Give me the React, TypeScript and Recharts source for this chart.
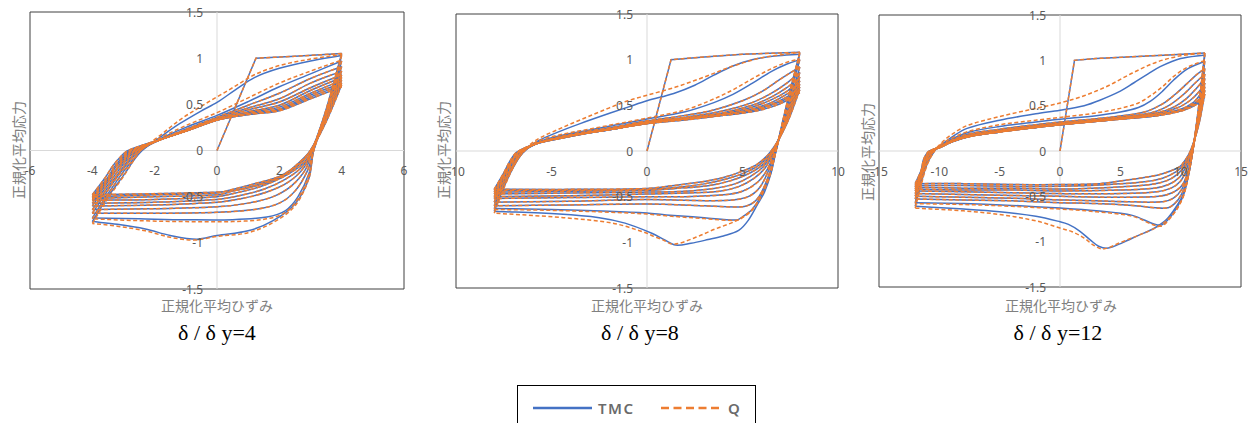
import React from 'react';
import { LineChart, Line, XAxis, YAxis, ReferenceLine, ReferenceArea } from 'recharts';

type Pt = [number, number];

const yTicks = [-1.5, -1, -0.5, 0, 0.5, 1, 1.5];
const axisTitleX = '正規化平均ひずみ';
const axisTitleY = '正規化平均応力';
const seriesNames = ['TMC', 'Q'];
const captions = ['δ / δ y=4', 'δ / δ y=8', 'δ / δ y=12'];

// ---------------- δ/δy = 4 ----------------
const xTicks4 = [-6, -4, -2, 0, 2, 4, 6];
const init4: Pt[] = [[0, 0], [1.25, 1.0], [2.5, 1.02], [4, 1.05]];
const tmcLow4: Pt[][] = [
  [[4, 1.05], [3.55, 0.5], [3.1, 0], [2.95, -0.3], [2.5, -0.58], [1.8, -0.76], [1, -0.87], [0, -0.92], [-0.65, -0.96], [-1.5, -0.92], [-2.3, -0.85], [-3.2, -0.8], [-4, -0.77]],
  [[4, 1.03], [3.55, 0.48], [3.1, 0], [2.95, -0.25], [2.6, -0.5], [2.2, -0.65], [1.6, -0.72], [0.5, -0.75], [-1, -0.75], [-2.5, -0.74], [-4, -0.73]],
  [[4, 0.97], [3.55, 0.45], [3.1, 0], [2.9, -0.22], [2.5, -0.44], [2, -0.57], [1.2, -0.64], [0, -0.67], [-2, -0.68], [-4, -0.68]],
  [[4, 0.91], [3.5, 0.42], [3.05, 0], [2.85, -0.2], [2.4, -0.38], [1.8, -0.5], [1, -0.57], [0, -0.61], [-2, -0.63], [-4, -0.64]],
  [[4, 0.86], [3.5, 0.4], [3.05, 0], [2.8, -0.18], [2.3, -0.34], [1.6, -0.45], [0.8, -0.52], [0, -0.56], [-2, -0.59], [-4, -0.6]],
  [[4, 0.82], [3.5, 0.38], [3.05, 0], [2.75, -0.17], [2.2, -0.31], [1.5, -0.42], [0.7, -0.49], [0, -0.53], [-2, -0.56], [-4, -0.57]],
  [[4, 0.79], [3.5, 0.36], [3.05, 0], [2.7, -0.16], [2.1, -0.29], [1.4, -0.39], [0.6, -0.46], [0, -0.5], [-2, -0.53], [-4, -0.54]],
  [[4, 0.76], [3.5, 0.34], [3.0, 0], [2.65, -0.15], [2.05, -0.28], [1.3, -0.37], [0.5, -0.44], [0, -0.48], [-2, -0.5], [-4, -0.52]],
  [[4, 0.73], [3.5, 0.32], [3.0, 0], [2.6, -0.15], [2, -0.28], [1.2, -0.36], [0.4, -0.43], [0, -0.46], [-2, -0.48], [-4, -0.5]],
  [[4, 0.71], [3.5, 0.31], [3.0, 0], [2.57, -0.15], [2.03, -0.29], [1.3, -0.38], [0.4, -0.44], [-1, -0.46], [-2.5, -0.47], [-4, -0.48]],
];
const tmcUp4: Pt[][] = [
  [[-4, -0.77], [-3.5, -0.5], [-3, -0.27], [-2.7, -0.12], [-2.4, 0], [-1.8, 0.15], [-1.2, 0.29], [-0.5, 0.43], [0, 0.52], [0.6, 0.66], [1.2, 0.79], [2, 0.89], [3, 0.97], [4, 1.03]],
  [[-4, -0.73], [-3.5, -0.47], [-3.05, -0.25], [-2.7, -0.1], [-2.45, 0], [-1.8, 0.13], [-1, 0.25], [0, 0.38], [1, 0.53], [2, 0.69], [3, 0.83], [4, 0.97]],
  [[-4, -0.68], [-3.5, -0.43], [-3.1, -0.24], [-2.75, -0.09], [-2.5, 0], [-1.8, 0.12], [-1, 0.23], [0, 0.36], [1, 0.49], [2, 0.62], [3, 0.78], [4, 0.91]],
  [[-4, -0.64], [-3.5, -0.4], [-3.1, -0.22], [-2.8, -0.09], [-2.55, 0], [-1.8, 0.12], [-1, 0.22], [0, 0.35], [1, 0.46], [2, 0.56], [3, 0.73], [4, 0.86]],
  [[-4, -0.6], [-3.5, -0.37], [-3.15, -0.21], [-2.85, -0.08], [-2.6, 0], [-1.8, 0.12], [-1, 0.22], [0, 0.34], [1, 0.44], [2, 0.525], [3, 0.68], [4, 0.82]],
  [[-4, -0.57], [-3.5, -0.34], [-3.2, -0.2], [-2.9, -0.08], [-2.65, 0], [-1.8, 0.12], [-1, 0.21], [0, 0.33], [1, 0.42], [2, 0.49], [3, 0.65], [4, 0.79]],
  [[-4, -0.54], [-3.5, -0.32], [-3.2, -0.19], [-2.95, -0.08], [-2.7, 0], [-1.8, 0.12], [-1, 0.21], [0, 0.33], [1, 0.41], [2, 0.47], [3, 0.62], [4, 0.76]],
  [[-4, -0.52], [-3.5, -0.3], [-3.25, -0.18], [-3, -0.08], [-2.75, 0], [-1.8, 0.12], [-1, 0.21], [0, 0.33], [1, 0.4], [2, 0.45], [3, 0.6], [4, 0.73]],
  [[-4, -0.5], [-3.5, -0.29], [-3.3, -0.18], [-3.05, -0.08], [-2.8, 0], [-1.8, 0.12], [-1, 0.21], [0, 0.33], [1, 0.39], [2, 0.44], [3, 0.58], [4, 0.71]],
  [[-4, -0.48], [-3.6, -0.3], [-3.35, -0.17], [-3.1, -0.07], [-2.85, 0], [-1.8, 0.12], [-1, 0.21], [0, 0.33], [1, 0.39], [2, 0.43], [3, 0.56], [4, 0.69]],
];
const qLow4Head: Pt[][] = [
  [[4, 1.05], [3.55, 0.5], [3.1, 0], [2.95, -0.3], [2.5, -0.6], [1.8, -0.78], [1, -0.89], [0, -0.93], [-0.7, -0.97], [-1.5, -0.94], [-2.3, -0.87], [-3.2, -0.82], [-4, -0.79]],
  [[4, 1.03], [3.55, 0.48], [3.1, 0], [2.95, -0.26], [2.6, -0.52], [2.2, -0.67], [1.6, -0.74], [0.5, -0.77], [-1, -0.77], [-2.5, -0.76], [-4, -0.74]],
];
const qUp4Head: Pt[][] = [
  [[-4, -0.79], [-3.5, -0.52], [-3, -0.28], [-2.7, -0.12], [-2.45, 0], [-1.8, 0.17], [-1.2, 0.33], [-0.5, 0.48], [0, 0.58], [0.6, 0.7], [1.2, 0.82], [2, 0.92], [3, 0.99], [4, 1.04]],
  [[-4, -0.74], [-3.5, -0.48], [-3.05, -0.26], [-2.7, -0.1], [-2.45, 0], [-1.8, 0.14], [-1, 0.27], [0, 0.41], [1, 0.57], [2, 0.73], [3, 0.86], [4, 0.98]],
];

// ---------------- δ/δy = 8 ----------------
const xTicks8 = [-10, -5, 0, 5, 10];
const init8: Pt[] = [[0, 0], [1.26, 1.0], [3, 1.03], [5, 1.06], [8, 1.08]];
const tmcLow8: Pt[][] = [
  [[8, 1.08], [7.3, 0.5], [6.75, 0], [6.5, -0.24], [6.15, -0.45], [5.8, -0.58], [5.3, -0.76], [4.8, -0.87], [4, -0.93], [3.2, -0.97], [2.3, -1.01], [1.5, -1.03], [0.9, -0.97], [0.25, -0.9], [-1.15, -0.79], [-2.5, -0.73], [-4.6, -0.69], [-8, -0.66]],
  [[8, 1.06], [7.3, 0.48], [6.75, 0], [6.45, -0.26], [6.0, -0.48], [5.5, -0.64], [5.0, -0.72], [4.7, -0.755], [3, -0.73], [1, -0.7], [0, -0.68], [-2, -0.66], [-5, -0.64], [-8, -0.63]],
  [[8, 1.0], [7.3, 0.45], [6.75, 0], [6.4, -0.25], [6, -0.45], [5.6, -0.56], [5, -0.61], [3, -0.6], [0, -0.58], [-4, -0.59], [-8, -0.6]],
  [[8, 0.92], [7.3, 0.4], [6.7, 0], [6.35, -0.22], [5.9, -0.4], [5.3, -0.5], [4.3, -0.54], [2, -0.54], [0, -0.53], [-4, -0.55], [-8, -0.56]],
  [[8, 0.86], [7.3, 0.38], [6.7, 0], [6.3, -0.2], [5.8, -0.34], [5, -0.44], [4, -0.48], [2, -0.5], [0, -0.5], [-4, -0.51], [-8, -0.52]],
  [[8, 0.81], [7.3, 0.36], [6.65, 0], [6.2, -0.18], [5.6, -0.3], [4.8, -0.39], [3.8, -0.44], [2, -0.46], [0, -0.47], [-4, -0.49], [-8, -0.5]],
  [[8, 0.77], [7.3, 0.34], [6.6, 0], [6.1, -0.17], [5.4, -0.28], [4.6, -0.36], [3.5, -0.41], [2, -0.44], [0, -0.45], [-4, -0.46], [-8, -0.47]],
  [[8, 0.73], [7.3, 0.32], [6.6, 0], [6, -0.16], [5.2, -0.26], [4.3, -0.33], [3.2, -0.38], [1.5, -0.41], [0, -0.43], [-4, -0.44], [-8, -0.45]],
  [[8, 0.7], [7.3, 0.3], [6.55, 0], [5.9, -0.15], [5.1, -0.24], [4.1, -0.31], [3, -0.36], [1.5, -0.4], [0, -0.42], [-4, -0.43], [-8, -0.43]],
  [[8, 0.67], [7.3, 0.29], [6.5, 0], [5.8, -0.14], [5, -0.22], [4, -0.29], [2.8, -0.34], [1.3, -0.38], [0, -0.41], [-4, -0.42], [-8, -0.42]],
];
const tmcUp8: Pt[][] = [
  [[-8, -0.66], [-7.5, -0.4], [-7, -0.18], [-6.5, -0.02], [-5.8, 0.1], [-4.5, 0.22], [-3.5, 0.3], [-2, 0.41], [-1, 0.48], [0, 0.55], [1.4, 0.63], [2.5, 0.72], [3.5, 0.83], [4.5, 0.93], [5.5, 1.0], [6.7, 1.04], [8, 1.06]],
  [[-8, -0.63], [-7.5, -0.38], [-7, -0.17], [-6.5, -0.02], [-5.8, 0.09], [-4.5, 0.17], [-3, 0.23], [-1.5, 0.29], [0, 0.35], [2, 0.43], [3.5, 0.53], [4.5, 0.62], [5.5, 0.74], [6.5, 0.87], [7.3, 0.95], [8, 1.0]],
  [[-8, -0.6], [-7.5, -0.36], [-7, -0.16], [-6.55, -0.02], [-5.8, 0.08], [-4.5, 0.16], [-3, 0.22], [-1.5, 0.27], [0, 0.33], [2, 0.39], [3.5, 0.45], [5, 0.55], [6, 0.65], [7, 0.79], [8, 0.92]],
  [[-8, -0.56], [-7.5, -0.33], [-7, -0.15], [-6.6, -0.02], [-5.8, 0.08], [-4.5, 0.15], [-3, 0.21], [-1.5, 0.26], [0, 0.32], [2, 0.37], [4, 0.44], [5.5, 0.53], [6.5, 0.63], [7.3, 0.74], [8, 0.86]],
  [[-8, -0.52], [-7.5, -0.31], [-7.05, -0.14], [-6.65, -0.02], [-5.8, 0.08], [-4.5, 0.15], [-3, 0.21], [-1.5, 0.26], [0, 0.32], [2, 0.36], [4, 0.42], [5.5, 0.5], [6.5, 0.59], [7.3, 0.69], [8, 0.81]],
  [[-8, -0.5], [-7.5, -0.29], [-7.1, -0.13], [-6.7, -0.02], [-5.8, 0.08], [-4.5, 0.15], [-3, 0.2], [-1.5, 0.25], [0, 0.31], [2, 0.36], [4, 0.41], [5.5, 0.48], [6.5, 0.56], [7.3, 0.65], [8, 0.77]],
  [[-8, -0.47], [-7.5, -0.27], [-7.1, -0.12], [-6.7, -0.01], [-5.8, 0.08], [-4.5, 0.15], [-3, 0.2], [-1.5, 0.25], [0, 0.31], [2, 0.35], [4, 0.4], [5.5, 0.46], [6.5, 0.53], [7.3, 0.62], [8, 0.73]],
  [[-8, -0.45], [-7.5, -0.26], [-7.1, -0.12], [-6.75, -0.01], [-5.8, 0.08], [-4.5, 0.14], [-3, 0.2], [-1.5, 0.25], [0, 0.3], [2, 0.35], [4, 0.4], [5.5, 0.45], [6.5, 0.51], [7.3, 0.59], [8, 0.7]],
  [[-8, -0.43], [-7.5, -0.25], [-7.1, -0.11], [-6.75, -0.01], [-5.8, 0.08], [-4.5, 0.14], [-3, 0.2], [-1.5, 0.25], [0, 0.3], [2, 0.35], [4, 0.39], [5.5, 0.44], [6.5, 0.5], [7.3, 0.57], [8, 0.67]],
  [[-8, -0.42], [-7.5, -0.24], [-7.15, -0.1], [-6.8, -0.01], [-5.8, 0.08], [-4.5, 0.14], [-3, 0.2], [-1.5, 0.25], [0, 0.3], [2, 0.34], [4, 0.39], [5.5, 0.43], [6.5, 0.48], [7.3, 0.55], [8, 0.64]],
];
const qLow8Head: Pt[][] = [
  [[8, 1.08], [7.3, 0.5], [6.75, 0], [6.45, -0.24], [6.05, -0.45], [5.5, -0.64], [4.7, -0.76], [3.5, -0.86], [2.5, -0.95], [1.4, -1.02], [0.8, -0.97], [0.3, -0.93], [0, -0.9], [-1.8, -0.79], [-4.4, -0.73], [-8, -0.68]],
  [[8, 1.07], [7.3, 0.49], [6.75, 0], [6.45, -0.26], [6.0, -0.49], [5.5, -0.65], [5.0, -0.73], [4.7, -0.76], [3, -0.74], [1, -0.71], [0, -0.69], [-2, -0.67], [-5, -0.65], [-8, -0.64]],
];
const qUp8Head: Pt[][] = [
  [[-8, -0.68], [-7.5, -0.41], [-7, -0.18], [-6.5, -0.01], [-5.8, 0.12], [-4.5, 0.25], [-3.5, 0.34], [-2, 0.47], [-1, 0.55], [0, 0.61], [1.5, 0.7], [3, 0.81], [4.5, 0.93], [6, 1.02], [8, 1.08]],
  [[-8, -0.64], [-7.5, -0.38], [-7, -0.17], [-6.5, -0.02], [-5.8, 0.1], [-4.5, 0.18], [-3, 0.24], [-1.5, 0.3], [0, 0.36], [2, 0.45], [3.5, 0.57], [4.5, 0.67], [5.5, 0.79], [6.5, 0.9], [7.3, 0.97], [8, 1.01]],
];

// ---------------- δ/δy = 12 ----------------
const xTicks12 = [-15, -10, -5, 0, 5, 10, 15];
const init12: Pt[] = [[0, 0], [1.2, 1.0], [3, 1.02], [6, 1.04], [9, 1.06], [12, 1.08]];
const tmcLow12: Pt[][] = [
  [[12, 1.08], [11.5, 0.5], [11, 0], [10.6, -0.3], [10.2, -0.48], [9.7, -0.6], [8.8, -0.76], [7.7, -0.86], [6.5, -0.93], [5.2, -1.01], [4, -1.07], [3.2, -1.05], [2.5, -0.98], [1.6, -0.88], [0.7, -0.81], [0, -0.78], [-2, -0.72], [-5, -0.67], [-8, -0.64], [-12, -0.61]],
  [[12, 1.06], [11.5, 0.48], [11, 0], [10.6, -0.3], [10.2, -0.5], [9.7, -0.62], [9.2, -0.72], [8.3, -0.82], [6, -0.71], [3, -0.66], [0, -0.63], [-4, -0.6], [-8, -0.58], [-12, -0.57]],
  [[12, 0.99], [11.5, 0.45], [11, 0], [10.6, -0.28], [10.1, -0.47], [9.5, -0.58], [8.8, -0.63], [6, -0.6], [3, -0.58], [0, -0.57], [-4, -0.55], [-8, -0.54], [-12, -0.53]],
  [[12, 0.91], [11.5, 0.42], [11, 0], [10.6, -0.25], [10.1, -0.42], [9.4, -0.52], [8.5, -0.56], [6, -0.56], [3, -0.55], [0, -0.54], [-4, -0.52], [-8, -0.51], [-12, -0.5]],
  [[12, 0.85], [11.5, 0.4], [11, 0], [10.6, -0.23], [10.1, -0.38], [9.3, -0.46], [8.2, -0.5], [5, -0.51], [0, -0.5], [-4, -0.49], [-8, -0.48], [-12, -0.47]],
  [[12, 0.8], [11.5, 0.38], [10.95, 0], [10.5, -0.2], [10, -0.33], [9.2, -0.41], [8, -0.45], [5, -0.47], [0, -0.47], [-4, -0.46], [-8, -0.45], [-12, -0.44]],
  [[12, 0.75], [11.5, 0.35], [10.9, 0], [10.4, -0.18], [9.9, -0.29], [9, -0.37], [7.8, -0.41], [5, -0.43], [0, -0.44], [-4, -0.43], [-8, -0.43], [-12, -0.42]],
  [[12, 0.71], [11.5, 0.33], [10.9, 0], [10.3, -0.17], [9.7, -0.26], [8.8, -0.33], [7.5, -0.37], [4.5, -0.4], [0, -0.42], [-4, -0.41], [-8, -0.41], [-12, -0.4]],
  [[12, 0.67], [11.5, 0.31], [10.85, 0], [10.2, -0.16], [9.6, -0.23], [8.5, -0.3], [7, -0.34], [4, -0.37], [0, -0.39], [-4, -0.39], [-8, -0.38], [-12, -0.38]],
  [[12, 0.63], [11.5, 0.29], [10.8, 0], [10.1, -0.15], [9.7, -0.19], [8.5, -0.25], [7.5, -0.28], [5, -0.33], [3.3, -0.36], [0, -0.37], [-4, -0.37], [-8, -0.36], [-12, -0.36]],
];
const tmcUp12: Pt[][] = [
  [[-12, -0.61], [-11.5, -0.35], [-11, -0.14], [-10.4, 0], [-9.9, 0.06], [-9, 0.15], [-7.7, 0.25], [-5, 0.34], [-2, 0.41], [0, 0.45], [2, 0.5], [3.3, 0.56], [5, 0.66], [6.1, 0.75], [7.3, 0.85], [8.3, 0.93], [10, 1.02], [12, 1.06]],
  [[-12, -0.57], [-11.5, -0.33], [-11, -0.13], [-10.45, 0], [-9.9, 0.06], [-9, 0.13], [-7.5, 0.21], [-5, 0.27], [-2, 0.32], [0, 0.35], [3, 0.39], [5, 0.43], [6.5, 0.48], [7.5, 0.55], [8.5, 0.66], [9.4, 0.78], [10.5, 0.9], [12, 0.99]],
  [[-12, -0.53], [-11.5, -0.3], [-11.05, -0.12], [-10.5, 0], [-9.9, 0.05], [-9, 0.12], [-7.5, 0.19], [-5, 0.24], [-2, 0.29], [0, 0.32], [4, 0.37], [7, 0.43], [8.5, 0.52], [9.5, 0.62], [10.5, 0.74], [11.3, 0.84], [12, 0.91]],
  [[-12, -0.5], [-11.5, -0.28], [-11.1, -0.11], [-10.55, 0], [-9.9, 0.05], [-9, 0.11], [-7.5, 0.18], [-5, 0.23], [-2, 0.28], [0, 0.31], [4, 0.36], [7.5, 0.42], [9, 0.5], [10.2, 0.62], [11.2, 0.75], [12, 0.85]],
  [[-12, -0.47], [-11.5, -0.26], [-11.1, -0.1], [-10.6, 0], [-9.9, 0.05], [-9, 0.11], [-7.5, 0.17], [-5, 0.22], [-2, 0.27], [0, 0.3], [4, 0.35], [8, 0.42], [9.5, 0.49], [10.5, 0.58], [11.3, 0.69], [12, 0.8]],
  [[-12, -0.44], [-11.5, -0.25], [-11.15, -0.1], [-10.65, 0], [-9.9, 0.05], [-9, 0.1], [-7.5, 0.17], [-5, 0.22], [-2, 0.27], [0, 0.3], [4, 0.35], [8, 0.41], [9.8, 0.48], [10.8, 0.56], [11.5, 0.65], [12, 0.75]],
  [[-12, -0.42], [-11.5, -0.24], [-11.2, -0.1], [-10.7, 0], [-9.9, 0.05], [-9, 0.1], [-7.5, 0.16], [-5, 0.21], [-2, 0.26], [0, 0.29], [4, 0.34], [8, 0.4], [10, 0.46], [11, 0.53], [11.6, 0.62], [12, 0.71]],
  [[-12, -0.4], [-11.5, -0.23], [-11.2, -0.09], [-10.75, 0], [-9.9, 0.04], [-9, 0.1], [-7.5, 0.16], [-5, 0.21], [-2, 0.26], [0, 0.29], [4, 0.34], [8, 0.4], [10, 0.45], [11, 0.51], [11.6, 0.58], [12, 0.67]],
  [[-12, -0.38], [-11.5, -0.22], [-11.25, -0.09], [-10.8, 0], [-9.9, 0.04], [-9, 0.1], [-7.5, 0.16], [-5, 0.21], [-2, 0.26], [0, 0.29], [4, 0.34], [8, 0.39], [10, 0.44], [11, 0.5], [11.6, 0.56], [12, 0.63]],
  [[-12, -0.36], [-11.5, -0.21], [-11.3, -0.09], [-10.85, 0], [-9.9, 0.04], [-9, 0.1], [-7.5, 0.16], [-5, 0.21], [-2, 0.26], [0, 0.29], [4, 0.34], [8, 0.39], [10, 0.44], [11, 0.49], [11.6, 0.54], [12, 0.6]],
];
const qLow12Head: Pt[][] = [
  [[12, 1.08], [11.5, 0.5], [11, 0], [10.6, -0.3], [10.2, -0.5], [9.6, -0.66], [8.3, -0.82], [6.5, -0.93], [5, -1.01], [3.6, -1.08], [2.8, -1.04], [2, -0.96], [1, -0.89], [0, -0.85], [-2, -0.77], [-5, -0.7], [-8, -0.66], [-12, -0.63]],
  [[12, 1.08], [11.5, 0.49], [11, 0], [10.6, -0.3], [10.2, -0.51], [9.7, -0.63], [9.2, -0.73], [8.3, -0.83], [6, -0.72], [3, -0.67], [0, -0.64], [-4, -0.61], [-8, -0.59], [-12, -0.58]],
];
const qUp12Head: Pt[][] = [
  [[-12, -0.63], [-11.5, -0.37], [-11, -0.15], [-10.4, 0], [-9.9, 0.08], [-9, 0.18], [-7.7, 0.28], [-5, 0.38], [-2, 0.47], [0, 0.53], [2, 0.61], [4, 0.72], [6, 0.86], [8, 0.98], [10, 1.05], [12, 1.08]],
  [[-12, -0.58], [-11.5, -0.34], [-11, -0.13], [-10.45, 0], [-9.9, 0.07], [-9, 0.14], [-7.5, 0.22], [-5, 0.29], [-2, 0.34], [0, 0.37], [3, 0.42], [5, 0.47], [6.5, 0.53], [7.5, 0.61], [8.5, 0.71], [9.4, 0.82], [10.5, 0.92], [12, 1.0]],
];

// ---------------- helpers ----------------
const BLUE = '#4472C4';
const ORANGE = '#ED7D31';

// smooth curve through the points (chord-length Catmull-Rom)
const smoothCurve: any = (context: any) => {
  let pts: number[][] = [];
  return {
    areaStart() {},
    areaEnd() {},
    lineStart() { pts = []; },
    point(x: number, y: number) { pts.push([+x, +y]); },
    lineEnd() {
      const n = pts.length;
      if (!n) return;
      context.moveTo(pts[0][0], pts[0][1]);
      const d = (a: number[], b: number[]) => Math.hypot(b[0] - a[0], b[1] - a[1]);
      for (let i = 0; i < n - 1; i++) {
        const p0 = pts[i > 0 ? i - 1 : i];
        const p1 = pts[i];
        const p2 = pts[i + 1];
        const p3 = pts[i + 2 < n ? i + 2 : i + 1];
        const d01 = d(p0, p1), d12 = d(p1, p2), d23 = d(p2, p3);
        const s1 = d01 + d12 || 1;
        const s2 = d12 + d23 || 1;
        const t1 = [(p2[0] - p0[0]) / s1, (p2[1] - p0[1]) / s1];
        const t2 = [(p3[0] - p1[0]) / s2, (p3[1] - p1[1]) / s2];
        context.bezierCurveTo(
          p1[0] + (t1[0] * d12) / 3, p1[1] + (t1[1] * d12) / 3,
          p2[0] - (t2[0] * d12) / 3, p2[1] - (t2[1] * d12) / 3,
          p2[0], p2[1]
        );
      }
    },
  };
};

const toData = (pts: Pt[]) => pts.map(([x, y]) => ({ x, y }));

const interleave = (low: Pt[][], up: Pt[][]) => {
  const out: Pt[][] = [];
  low.forEach((l, i) => { out.push(l); if (up[i]) out.push(up[i]); });
  return out;
};

const panels = [
  {
    left: 0, width: 420, height: 320,
    margin: { top: 12, right: 16, bottom: 31, left: 30 },
    xDomain: [-6, 6], xTicks: xTicks4,
    init: init4,
    tmc: interleave(tmcLow4, tmcUp4),
    q: interleave([...qLow4Head, ...tmcLow4.slice(2)], [...qUp4Head, ...tmcUp4.slice(2)]),
    titleX: { x: 217, y: 305 }, titleY: { x: 18, y: 150 }, caption: { x: 217, y: 333, text: captions[0] },
  },
  {
    left: 425, width: 420, height: 320,
    margin: { top: 14, right: 7, bottom: 32, left: 31 },
    xDomain: [-10, 10], xTicks: xTicks8,
    init: init8,
    tmc: interleave(tmcLow8, tmcUp8),
    q: interleave([...qLow8Head, ...tmcLow8.slice(2)], [...qUp8Head, ...tmcUp8.slice(2)]),
    titleX: { x: 647, y: 305 }, titleY: { x: 443, y: 150 }, caption: { x: 640, y: 333, text: captions[1] },
  },
  {
    left: 845, width: 408, height: 320,
    margin: { top: 15, right: 12, bottom: 33, left: 34 },
    xDomain: [-15, 15], xTicks: xTicks12,
    init: init12,
    tmc: interleave(tmcLow12, tmcUp12),
    q: interleave([...qLow12Head, ...tmcLow12.slice(2)], [...qUp12Head, ...tmcUp12.slice(2)]),
    titleX: { x: 1061, y: 305 }, titleY: { x: 867, y: 152 }, caption: { x: 1058, y: 333, text: captions[2] },
  },
];

const tickFont = '"Noto Sans", "Liberation Sans", sans-serif';
const AXIS_PX = 1;

function Panel({ p }: { p: any }) {
  const { margin, width, height } = p;
  const plotW = width - margin.left - margin.right;
  const plotH = height - margin.top - margin.bottom;
  const zeroX = margin.left + plotW / 2;
  const zeroY = margin.top + plotH / 2;
  const chartMargin = { top: margin.top, right: margin.right, bottom: margin.bottom - AXIS_PX, left: margin.left - AXIS_PX };
  return (
    <div style={{ position: 'absolute', left: p.left, top: 0, width, height }}>
      <LineChart width={width} height={height} margin={chartMargin}>
        <XAxis
          type="number" dataKey="x" domain={p.xDomain} ticks={p.xTicks} interval={0}
          height={AXIS_PX} axisLine={false} tickLine={false} allowDataOverflow
          tick={(t: any) => (
            <text x={t.x} y={zeroY + 20} textAnchor="middle" dominantBaseline="central"
              fontSize={12} fill="#595959" fontFamily={tickFont}>{t.payload.value}</text>
          )}
        />
        <YAxis
          type="number" dataKey="y" domain={[-1.5, 1.5]} ticks={yTicks} interval={0}
          width={AXIS_PX} axisLine={false} tickLine={false} allowDataOverflow
          tick={(t: any) => (
            <text x={zeroX - 14} y={t.y} textAnchor="end" dominantBaseline="central"
              fontSize={12} fill="#595959" fontFamily={tickFont}>{t.payload.value}</text>
          )}
        />
        <ReferenceLine x={0} stroke="#d9d9d9" strokeWidth={1} />
        <ReferenceLine y={0} stroke="#d9d9d9" strokeWidth={1} />
        <Line data={toData(p.init)} dataKey="y" name={seriesNames[0]} type="linear"
          stroke={BLUE} strokeWidth={1.5} dot={false} activeDot={false} isAnimationActive={false} />
        {p.tmc.map((b: Pt[], i: number) => (
          <Line key={'t' + i} data={toData(b)} dataKey="y" name={seriesNames[0]} type={smoothCurve}
            stroke={BLUE} strokeWidth={1.5} dot={false} activeDot={false} isAnimationActive={false} />
        ))}
        <Line data={toData(p.init)} dataKey="y" name={seriesNames[1]} type="linear"
          stroke={ORANGE} strokeWidth={1.5} strokeDasharray="4 2.5" dot={false} activeDot={false} isAnimationActive={false} />
        {p.q.map((b: Pt[], i: number) => (
          <Line key={'q' + i} data={toData(b)} dataKey="y" name={seriesNames[1]} type={smoothCurve}
            stroke={ORANGE} strokeWidth={1.5} strokeDasharray="4 2.5" dot={false} activeDot={false} isAnimationActive={false} />
        ))}
        <ReferenceArea x1={p.xDomain[0]} x2={p.xDomain[1]} y1={-1.5} y2={1.5}
          fill="none" fillOpacity={0} stroke="#404040" strokeWidth={1} ifOverflow="visible" />
      </LineChart>
    </div>
  );
}

const titleStyle: React.CSSProperties = {
  position: 'absolute', whiteSpace: 'nowrap', fontFamily: '"Noto Sans CJK JP", sans-serif',
  fontSize: 14, color: '#808080', lineHeight: 1,
};

export default function App() {
  return (
    <div style={{ position: 'absolute', left: 0, top: 0, width: 1253, height: 423, background: '#fff', overflow: 'hidden' }}>
      {panels.map((p, i) => (
        <React.Fragment key={i}>
          <Panel p={p} />
          <div style={{ ...titleStyle, left: p.titleX.x, top: p.titleX.y, transform: 'translate(-50%, -50%)' }}>{axisTitleX}</div>
          <div style={{ ...titleStyle, left: p.titleY.x, top: p.titleY.y, transform: 'translate(-50%, -50%) rotate(-90deg)' }}>{axisTitleY}</div>
          <div style={{ position: 'absolute', left: p.caption.x, top: p.caption.y, transform: 'translate(-50%, -50%)', whiteSpace: 'nowrap',
            fontFamily: '"Liberation Serif", "Times New Roman", serif', fontSize: 22, color: '#000', lineHeight: 1 }}>{p.caption.text}</div>
        </React.Fragment>
      ))}
      <div style={{ position: 'absolute', left: 517, top: 385, width: 239, height: 46, border: '1px solid #000', boxSizing: 'border-box', background: '#fff' }}>
        <svg width={237} height={44} style={{ position: 'absolute', left: 0, top: 0 }}>
          <line x1={15} x2={74} y1={22} y2={22} stroke={BLUE} strokeWidth={2.5} />
          <text x={80} y={22} dominantBaseline="central" fontSize={15} fontWeight={600} letterSpacing={1.5} fill="#6b6b6b" fontFamily={tickFont}>{seriesNames[0]}</text>
          <line x1={143} x2={205} y1={22} y2={22} stroke={ORANGE} strokeWidth={2.5} strokeDasharray="8 4.5" />
          <text x={210} y={22} dominantBaseline="central" fontSize={15} fontWeight={600} fill="#6b6b6b" fontFamily={tickFont}>{seriesNames[1]}</text>
        </svg>
      </div>
    </div>
  );
}
